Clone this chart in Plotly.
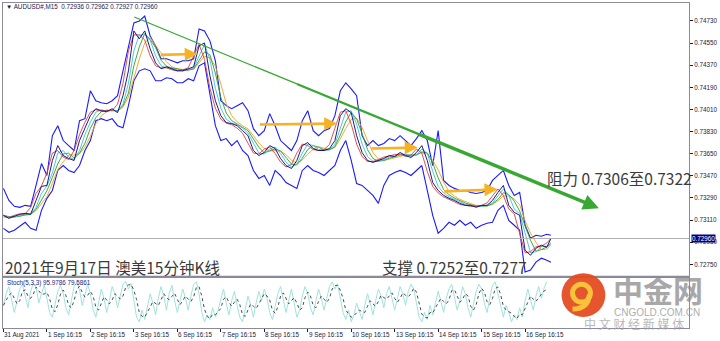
import numpy as np
import pandas as pd
import plotly.graph_objects as go

# ---------------- data ----------------
tick_bars = [0, 96, 192, 288, 384, 480, 576, 672, 768, 864, 960, 1056, 1152]
tick_labels = ["31 Aug 2021", "1 Sep 16:15", "2 Sep 16:15", "3 Sep 16:15", "6 Sep 16:15",
               "7 Sep 16:15", "8 Sep 16:15", "9 Sep 16:15", "10 Sep 16:15", "13 Sep 16:15",
               "14 Sep 16:15", "15 Sep 16:15", "16 Sep 16:15"]
price_ticks = [0.74730, 0.74550, 0.74370, 0.74190, 0.74010, 0.73830, 0.73650,
               0.73470, 0.73290, 0.73110, 0.72930, 0.72750]
last_price = 0.72960

price_bar = list(range(0, 1201, 12)) + [1209]
mid = [0.73149, 0.73124, 0.73141, 0.73157, 0.73165, 0.73157, 0.73270, 0.73384, 0.73392, 0.73595,
       0.73716, 0.73635, 0.73611, 0.73595, 0.73757, 0.73854, 0.73960, 0.74016, 0.74000, 0.73992,
       0.74016, 0.73984, 0.74122, 0.74324, 0.74649, 0.74584, 0.74649, 0.74503, 0.74389, 0.74341,
       0.74357, 0.74341, 0.74324, 0.74324, 0.74341, 0.74357, 0.74527, 0.74551, 0.74284, 0.74081,
       0.73960, 0.73903, 0.73895, 0.73878, 0.73838, 0.73797, 0.73676, 0.73635, 0.73660, 0.73716,
       0.73692, 0.73611, 0.73554, 0.73530, 0.73595, 0.73716, 0.73741, 0.73692, 0.73676, 0.73676,
       0.73692, 0.73757, 0.73960, 0.74016, 0.73984, 0.73797, 0.73660, 0.73595, 0.73579, 0.73595,
       0.73611, 0.73635, 0.73627, 0.73660, 0.73635, 0.73619, 0.73660, 0.73716, 0.73595, 0.73416,
       0.73351, 0.73311, 0.73287, 0.73270, 0.73246, 0.73230, 0.73230, 0.73214, 0.73230, 0.73230,
       0.73270, 0.73335, 0.73392, 0.73230, 0.73173, 0.73149, 0.72865, 0.72824, 0.72881, 0.72906,
       0.72889, 0.72960]
upper = [0.73368, 0.73270, 0.73222, 0.73214, 0.73230, 0.73222, 0.73392, 0.73570, 0.73473, 0.73797,
         0.73878, 0.73757, 0.73716, 0.73676, 0.73919, 0.73935, 0.74162, 0.74081, 0.74065, 0.74057,
         0.74081, 0.74122, 0.74324, 0.74527, 0.74714, 0.74730, 0.74770, 0.74608, 0.74527, 0.74422,
         0.74422, 0.74406, 0.74389, 0.74406, 0.74406, 0.74422, 0.74665, 0.74649, 0.74568, 0.74406,
         0.74081, 0.74041, 0.74016, 0.74041, 0.74065, 0.74000, 0.73854, 0.73797, 0.73838, 0.73976,
         0.73878, 0.73757, 0.73716, 0.73676, 0.73757, 0.73919, 0.74000, 0.73838, 0.73797, 0.73838,
         0.73854, 0.73960, 0.74162, 0.74227, 0.74178, 0.74122, 0.73797, 0.73716, 0.73757, 0.73716,
         0.73733, 0.73773, 0.73757, 0.73797, 0.73757, 0.73716, 0.73773, 0.73838, 0.73757, 0.73554,
         0.73838, 0.73433, 0.73392, 0.73368, 0.73351, 0.73351, 0.73335, 0.73327, 0.73335, 0.73351,
         0.73433, 0.73473, 0.73514, 0.73392, 0.73311, 0.73335, 0.73068, 0.72962, 0.72987, 0.72979,
         0.72995, 0.72987]
lower = [0.73043, 0.73011, 0.73027, 0.73060, 0.73092, 0.73043, 0.73027, 0.73189, 0.73287, 0.73351,
         0.73514, 0.73554, 0.73514, 0.73497, 0.73554, 0.73676, 0.73757, 0.73919, 0.73935, 0.73919,
         0.73935, 0.73878, 0.73862, 0.74041, 0.74243, 0.74324, 0.74341, 0.74324, 0.74243, 0.74243,
         0.74268, 0.74260, 0.74227, 0.74227, 0.74260, 0.74243, 0.74365, 0.74389, 0.74122, 0.73878,
         0.73757, 0.73773, 0.73716, 0.73757, 0.73676, 0.73635, 0.73514, 0.73449, 0.73473, 0.73392,
         0.73514, 0.73473, 0.73416, 0.73392, 0.73368, 0.73514, 0.73554, 0.73514, 0.73497, 0.73473,
         0.73514, 0.73554, 0.73676, 0.73757, 0.73595, 0.73408, 0.73392, 0.73351, 0.73311, 0.73246,
         0.73392, 0.73473, 0.73497, 0.73514, 0.73497, 0.73473, 0.73514, 0.73554, 0.73351, 0.73149,
         0.73003, 0.73043, 0.73092, 0.73068, 0.73108, 0.73068, 0.73092, 0.73043, 0.73068, 0.73084,
         0.73092, 0.73189, 0.73230, 0.73108, 0.73068, 0.73027, 0.72687, 0.72703, 0.72768, 0.72800,
         0.72784, 0.72768]

stoch_step = 6
stoch_k = [45, 70, 85, 60, 30, 55, 80, 90, 65, 40, 75, 92, 85, 50, 70, 88,
           60, 30, 20, 45, 75, 88, 70, 40, 25, 55, 85, 95, 78, 45, 65, 90,
           70, 35, 20, 50, 80, 60, 30, 55, 85, 70, 40, 65, 90, 96, 80, 92,
           60, 20, 10, 35, 15, 40, 70, 50, 25, 60, 85, 65, 35, 70, 88, 55,
           30, 55, 80, 60, 35, 65, 90, 95, 70, 30, 10, 25, 15, 40, 20, 35,
           60, 80, 50, 25, 55, 75, 45, 20, 10, 35, 65, 45, 20, 50, 75, 55,
           80, 60, 30, 15, 40, 70, 85, 60, 30, 55, 80, 50, 20, 35, 65, 85,
           70, 40, 25, 55, 80, 60, 35, 60, 85, 95, 80, 90, 60, 30, 15, 35,
           10, 25, 50, 30, 15, 45, 70, 50, 25, 55, 80, 65, 40, 70, 85, 60,
           35, 60, 85, 70, 45, 75, 90, 80, 50, 20, 10, 30, 15, 45, 25, 50,
           75, 55, 30, 60, 80, 90, 65, 35, 55, 85, 70, 40, 20, 45, 75, 90,
           80, 50, 30, 60, 88, 95, 70, 40, 20, 45, 30, 10, 25, 15, 40, 20,
           55, 80, 60, 35, 65, 85, 60, 82, 96]

# drawn objects (bar index, price)
trend_bar = [289, 1315]
trend_price = [0.74762, 0.73206]
orange_arrows = [((344, 0.74454), (429, 0.74462)),
                 ((563, 0.73887), (737, 0.73895)),
                 ((809, 0.73692), (915, 0.73700)),
                 ((970, 0.73343), (1091, 0.73360))]

title_text = "2021年9月17日 澳美15分钟K线"
support_text = "支撑 0.7252至0.7277"
resist_text = "阻力 0.7306至0.7322"
header_text = "▼ AUDUSD#,M15  0.72936 0.72962 0.72927 0.72960"
stoch_text = "Stoch(5,3,3) 95.9786 79.5861"

# ---------------- figure ----------------
W, H = 720, 341
ML, MR, MT, MB = 2, 29, 2, 13
PW, PH = W - ML - MR, H - MT - MB


def px(x):  # pixel -> paper x
    return (x - ML) / PW


def py(y):  # pixel -> paper y
    return (H - MB - y) / PH


fig = go.Figure()
s_mid = pd.Series(mid)
ma_lines = [(s_mid.rolling(4, min_periods=1).mean(), "#f0a020"),
            (s_mid.rolling(3, min_periods=1).mean(), "#2ca02c"),
            (s_mid.rolling(2, min_periods=1).mean(), "#40c0d0"),
            (s_mid.rolling(2, min_periods=1).mean().shift(-1).fillna(s_mid), "#e03c3c"),
            (s_mid.shift(0), "#000080")]

fig.add_trace(go.Scatter(x=price_bar, y=upper, mode="lines", line=dict(color="#1a1aff", width=1.1),
                         xaxis="x", yaxis="y", hoverinfo="skip"))
fig.add_trace(go.Scatter(x=price_bar, y=lower, mode="lines", line=dict(color="#1a1aff", width=1.1),
                         xaxis="x", yaxis="y", hoverinfo="skip"))
for ser, col in ma_lines:
    fig.add_trace(go.Scatter(x=price_bar, y=ser, mode="lines", line=dict(color=col, width=0.9),
                             xaxis="x", yaxis="y", hoverinfo="skip"))

stoch_bar = [i * stoch_step for i in range(len(stoch_k))]
stoch_d = pd.Series(stoch_k).rolling(3, min_periods=1).mean()
fig.add_trace(go.Scatter(x=stoch_bar, y=stoch_k, mode="lines", line=dict(color="#9fe3dc", width=1),
                         xaxis="x2", yaxis="y2", hoverinfo="skip"))
fig.add_trace(go.Scatter(x=stoch_bar, y=stoch_d, mode="lines",
                         line=dict(color="#4a4a4a", width=1, dash="dot"),
                         xaxis="x2", yaxis="y2", hoverinfo="skip"))

# trend line (green), thickening towards the arrow head
tb, tp = np.array(trend_bar, float), np.array(trend_price, float)
fracs = [0.0, 0.35, 0.62]
widths = [1.3, 2.2]
for i in range(2):
    a, b = fracs[i], fracs[i + 1]
    fig.add_trace(go.Scatter(x=[tb[0] + (tb[1] - tb[0]) * a, tb[0] + (tb[1] - tb[0]) * b],
                             y=[tp[0] + (tp[1] - tp[0]) * a, tp[0] + (tp[1] - tp[0]) * b],
                             mode="lines", line=dict(color="#38a832", width=widths[i]),
                             xaxis="x", yaxis="y", hoverinfo="skip"))

annotations = []
f = fracs[-1]
annotations.append(dict(x=tb[1], y=tp[1], ax=tb[0] + (tb[1] - tb[0]) * (f - 0.01),
                        ay=tp[0] + (tp[1] - tp[0]) * (f - 0.01), xref="x", yref="y",
                        axref="x", ayref="y", showarrow=True, arrowhead=2, arrowsize=0.9,
                        arrowwidth=3.5, arrowcolor="#38a832", text=""))
for (b0, p0), (b1, p1) in orange_arrows:
    annotations.append(dict(x=b1, y=p1, ax=b0, ay=p0, xref="x", yref="y", axref="x", ayref="y",
                            showarrow=True, arrowhead=2, arrowsize=1.0, arrowwidth=2.6,
                            arrowcolor="#f5b324", text=""))

# x tick labels (MT4 style, left aligned)
for b, t in zip(tick_bars, tick_labels):
    annotations.append(dict(x=b, y=0, xref="x2", yref="paper", yanchor="top", xanchor="left",
                            yshift=-1, xshift=-1, showarrow=False, text=t,
                            font=dict(family="Liberation Sans", size=6.3, color="#1a1a40")))

# price box
annotations.append(dict(x=1, y=last_price, xref="paper", yref="y", xanchor="left", yanchor="middle",
                        xshift=2, showarrow=False, text=f"{last_price:.5f}", bgcolor="#000080",
                        borderpad=0, font=dict(family="Liberation Sans", size=6.3, color="white")))

cjk = "Noto Sans CJK SC"
annotations += [
    dict(x=px(3), y=py(6), xref="paper", yref="paper", xanchor="left", yanchor="middle",
         showarrow=False, text=header_text, font=dict(family="Liberation Sans", size=6.3, color="#1a1a50")),
    dict(x=px(4), y=py(283), xref="paper", yref="paper", xanchor="left", yanchor="middle",
         showarrow=False, text=stoch_text, font=dict(family="Liberation Sans", size=6.3, color="#1a1a80")),
    dict(x=px(2), y=py(267), xref="paper", yref="paper", xanchor="left", yanchor="middle",
         showarrow=False, text=title_text, font=dict(family=cjk, size=15.5, color="#3a3a3a")),
    dict(x=px(381), y=py(267), xref="paper", yref="paper", xanchor="left", yanchor="middle",
         showarrow=False, text=support_text, font=dict(family=cjk, size=15.5, color="#3a3a3a")),
    dict(x=px(546), y=py(178), xref="paper", yref="paper", xanchor="left", yanchor="middle",
         showarrow=False, text=resist_text, font=dict(family=cjk, size=15.5, color="#3a3a3a")),
    # watermark
    dict(x=px(660), y=py(289), xref="paper", yref="paper", xanchor="center", yanchor="middle",
         showarrow=False, text="<b>中金网</b>", opacity=0.75,
         font=dict(family=cjk, size=30, color="#8c8c8c")),
    dict(x=px(659), y=py(312), xref="paper", yref="paper", xanchor="center", yanchor="middle",
         showarrow=False, text="CNGOLD.COM.CN", opacity=0.8,
         font=dict(family="Liberation Sans", size=10, color="#9a9a9a")),
    dict(x=px(636), y=py(323), xref="paper", yref="paper", xanchor="center", yanchor="middle",
         showarrow=False, text="中 文 财 经 新 媒 体", opacity=0.8,
         font=dict(family=cjk, size=12, color="#a8a8a8")),
]

shapes = [
    dict(type="line", xref="paper", yref="y", x0=0, x1=1, y0=last_price, y1=last_price,
         line=dict(color="#b0b0b0", width=1)),
    dict(type="line", xref="paper", yref="paper", x0=0, x1=1, y0=py(276.5), y1=py(276.5),
         line=dict(color="#8a8a98", width=2)),
    dict(type="circle", xref="paper", yref="paper", x0=px(563), x1=px(607), y0=py(317), y1=py(273),
         fillcolor="#e4481c", line=dict(width=0), opacity=0.92),
    dict(type="circle", xref="paper", yref="paper", x0=px(574), x1=px(592), y0=py(302), y1=py(284),
         fillcolor="rgba(0,0,0,0)", line=dict(color="#f8c23a", width=5)),
    dict(type="path", xref="paper", yref="paper",
         path=f"M {px(591)},{py(294)} Q {px(590)},{py(309)} {px(574)},{py(309)}",
         line=dict(color="#f8c23a", width=5)),
]

fig.update_layout(
    width=W, height=H, margin=dict(l=ML, r=MR, t=MT, b=MB),
    paper_bgcolor="white", plot_bgcolor="white", showlegend=False,
    annotations=annotations, shapes=shapes,
    xaxis=dict(domain=[0, 1], range=[-1, 1514], showgrid=False, zeroline=False,
               showticklabels=False, showline=True, mirror=True, linecolor="#8a8a98", linewidth=1,
               anchor="y"),
    yaxis=dict(domain=[py(276), 1], range=[0.72654, 0.74876], side="right", showgrid=False,
               zeroline=False, tickvals=price_ticks, ticktext=[f"{v:.5f}" for v in price_ticks],
               ticks="outside", ticklen=3, tickcolor="#1a1a40", showline=True, mirror=True,
               linecolor="#8a8a98", linewidth=1,
               tickfont=dict(family="Liberation Sans", size=6.3, color="#1a1a40"), anchor="x"),
    xaxis2=dict(domain=[0, 1], range=[-1, 1514], showgrid=False, zeroline=False,
                tickvals=tick_bars, ticktext=[""] * len(tick_bars), ticks="outside", ticklen=3,
                tickcolor="#1a1a40", showline=True, mirror=True, linecolor="#8a8a98",
                linewidth=1, anchor="y2", matches="x"),
    yaxis2=dict(domain=[0, py(278)], range=[-3, 103], showgrid=False, zeroline=False,
                showticklabels=False, showline=True, mirror=True, linecolor="#8a8a98",
                linewidth=1, anchor="x2", side="right"),
)

fig.write_html("out.html")
